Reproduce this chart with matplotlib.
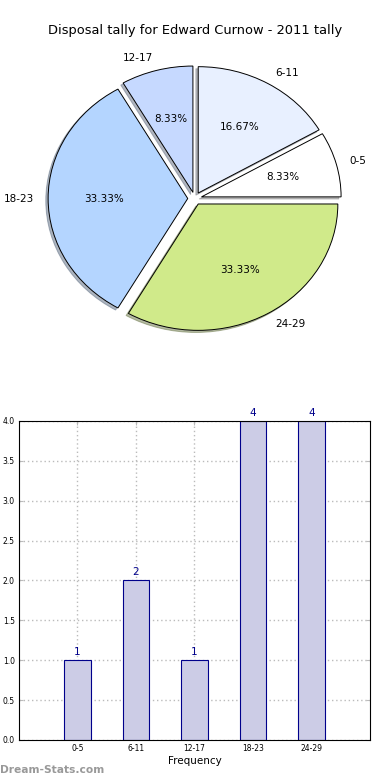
import matplotlib
matplotlib.use("Agg")
import matplotlib.pyplot as plt

categories = ["0-5", "6-11", "12-17", "18-23", "24-29"]
counts = [1, 2, 1, 4, 4]
pie_colors = ["#ffffff", "#e8f0ff", "#c6d9ff", "#b4d5ff", "#d0ea8a"]
title = "Disposal tally for Edward Curnow - 2011 tally"

fig = plt.figure(figsize=(3.9, 7.8), dpi=100)

# Pie chart
axp = fig.add_axes([0.0518, 0.543, 0.895, 0.405])
wedges, texts, autotexts = axp.pie(
    counts, labels=categories, colors=pie_colors, explode=[0.05] * len(counts),
    autopct="%.2f%%", shadow={"ox": -0.012, "oy": -0.012, "shade": 0.5},
    startangle=0, pctdistance=0.6, labeldistance=1.1,
    wedgeprops=dict(edgecolor="black", linewidth=0.7),
    textprops=dict(fontsize=7.5),
)
axp.set_aspect("auto")
axp.set_xlim(-1.25, 1.25)
axp.set_ylim(-1.25, 1.25)
axp.axis("off")
fig.text(0.5, 0.961, title, ha="center", va="center", fontsize=9.4)

# Bar chart
axb = fig.add_axes([0.0487, 0.0513, 0.9, 0.409])
x = list(range(len(categories)))
bars = axb.bar(x, counts, width=0.45, color="#ccccE6", edgecolor="#00008b", linewidth=0.8, zorder=2)
for xi, c in zip(x, counts):
    axb.text(xi, c + 0.04, str(c), ha="center", va="bottom", fontsize=7.5, color="#00008b")
axb.set_xlim(-1, 5)
axb.set_ylim(0, 4)
axb.set_xticks(x)
axb.set_xticklabels(categories)
axb.set_yticks([0, 0.5, 1.0, 1.5, 2.0, 2.5, 3.0, 3.5, 4.0])
axb.set_yticklabels(["0.0", "0.5", "1.0", "1.5", "2.0", "2.5", "3.0", "3.5", "4.0"])
axb.tick_params(labelsize=5.5, direction="in", top=True, right=True, length=3, pad=3,
                color="#bbbbbb")
axb.grid(True, linestyle=(0, (1, 2)), color="#bbbbbb", linewidth=1.0, zorder=0)
axb.set_axisbelow(True)
axb.set_xlabel("Frequency", fontsize=7.5, labelpad=2)
for s in axb.spines.values():
    s.set_linewidth(0.8)

fig.text(0.0, 0.0125, "Dream-Stats.com", fontsize=7.7, color="#999999", fontweight="semibold",
         ha="left", va="center")

fig.savefig("out.png", dpi=100)
